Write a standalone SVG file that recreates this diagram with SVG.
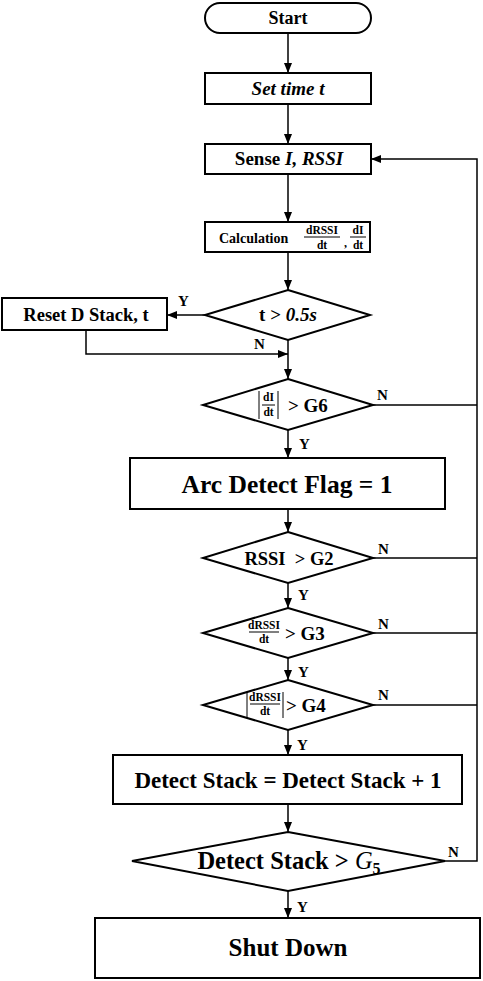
<svg xmlns="http://www.w3.org/2000/svg" width="483" height="981" viewBox="0 0 483 981" font-family="'Liberation Serif', 'DejaVu Serif', serif">
<defs>
<marker id="ah" markerWidth="10" markerHeight="8" refX="10" refY="4" orient="auto" markerUnits="userSpaceOnUse">
<path d="M0,0 L10,4 L0,8 Z" fill="#000"/>
</marker>
<style>
.box{fill:#fff;stroke:#000;stroke-width:2}
.ln{fill:none;stroke:#000;stroke-width:1.5}
.lnh{fill:none;stroke:#000;stroke-width:1.5;marker-end:url(#ah)}
text{font-family:'Liberation Serif','DejaVu Serif',serif;font-weight:bold;fill:#000}
.c{text-anchor:middle}
.lbl{font-size:15px}
.fr{font-size:11.5px;text-anchor:middle}
.fl{stroke:#000;stroke-width:1}
</style>
</defs>
<rect width="483" height="981" fill="#fff"/>
<g id="connectors">
<path class="lnh" d="M288,33 V73"/>
<path class="lnh" d="M288,104 V144"/>
<path class="lnh" d="M288,174 V222"/>
<path class="lnh" d="M288,252 V290"/>
<path class="lnh" d="M205,315 H167"/>
<path class="lnh" d="M86,330 V354 H288"/>
<path class="lnh" d="M288,340 V379"/>
<path class="ln" d="M373,405 H477"/>
<path class="lnh" d="M288,430 V458"/>
<path class="lnh" d="M288,509 V532"/>
<path class="ln" d="M373,558 H477"/>
<path class="lnh" d="M288,583 V608"/>
<path class="ln" d="M373,633 H477"/>
<path class="lnh" d="M288,658 V680"/>
<path class="ln" d="M373,705 H477"/>
<path class="lnh" d="M288,730 V755"/>
<path class="lnh" d="M288,804 V832"/>
<path class="lnh" d="M445,861 H477 V159 H371"/>
<path class="lnh" d="M288,891 V918"/>
<text class="lbl" x="178" y="306">Y</text>
<text class="lbl" x="254" y="349">N</text>
<text class="lbl" x="377" y="400">N</text>
<text class="lbl" x="299" y="449">Y</text>
<text class="lbl" x="378" y="554">N</text>
<text class="lbl" x="298" y="600">Y</text>
<text class="lbl" x="378" y="629">N</text>
<text class="lbl" x="298" y="677">Y</text>
<text class="lbl" x="378" y="700">N</text>
<text class="lbl" x="297" y="750">Y</text>
<text class="lbl" x="448" y="857">N</text>
<text class="lbl" x="297" y="912">Y</text>
</g>
<g id="start">
<rect class="box" x="205" y="3" width="166" height="30" rx="15" ry="15"/>
<text class="c" x="288" y="24" font-size="18">Start</text>
</g>
<g id="set-time">
<rect class="box" x="205" y="73" width="166" height="31"/>
<text class="c" x="288" y="95" font-size="19" font-style="italic">Set time t</text>
</g>
<g id="sense">
<rect class="box" x="205" y="144" width="166" height="30"/>
<text class="c" x="289" y="165" font-size="19">Sense <tspan font-style="italic">I, RSSI</tspan></text>
</g>
<g id="calculation">
<rect class="box" x="205" y="222" width="165" height="30"/>
<text x="219" y="243" font-size="14">Calculation</text>
<text class="fr" x="322" y="234" font-size="12.5">dRSSI</text>
<line class="fl" x1="304" y1="237" x2="340" y2="237"/>
<text class="fr" x="322" y="249" font-size="12.5">dt</text>
<text x="344" y="247" font-size="12">,</text>
<text class="fr" x="358" y="234" font-size="12.5">dI</text>
<line class="fl" x1="350" y1="237" x2="366" y2="237"/>
<text class="fr" x="358" y="249" font-size="12.5">dt</text>
</g>
<g id="check-time">
<polygon class="box" points="288,290 370,315 288,340 205,315"/>
<text class="c" x="288" y="321" font-size="19">t &gt; <tspan font-style="italic">0.5s</tspan></text>
</g>
<g id="reset">
<rect class="box" x="2" y="298" width="165" height="32"/>
<text class="c" x="86" y="321" font-size="18.5">Reset D Stack, t</text>
</g>
<g id="check-g6">
<polygon class="box" points="288,379 373,405 288,430 203,405"/>
<line class="fl" x1="259" y1="391" x2="259" y2="419" stroke-width="1.5"/>
<line class="fl" x1="278" y1="391" x2="278" y2="419" stroke-width="1.5"/>
<text class="fr" x="268.5" y="401">dI</text>
<line class="fl" x1="262" y1="405" x2="275" y2="405"/>
<text class="fr" x="268.5" y="416">dt</text>
<text x="288" y="412" font-size="19">&gt; G6</text>
</g>
<g id="arc-flag">
<rect class="box" x="130" y="458" width="315" height="51"/>
<text class="c" x="287" y="493" font-size="25.5">Arc Detect Flag = 1</text>
</g>
<g id="check-g2">
<polygon class="box" points="288,532 373,558 288,583 203,558"/>
<text class="c" x="289" y="565" font-size="18.5" xml:space="preserve">RSSI  &gt; G2</text>
</g>
<g id="check-g3">
<polygon class="box" points="288,608 373,633 288,658 203,633"/>
<text class="fr" x="264" y="629" font-size="11">dRSSI</text>
<line class="fl" x1="249" y1="632" x2="279" y2="632"/>
<text class="fr" x="264" y="643" font-size="11">dt</text>
<text x="285" y="640" font-size="19">&gt; G3</text>
</g>
<g id="check-g4">
<polygon class="box" points="288,680 373,705 288,730 203,705"/>
<line class="fl" x1="247" y1="692" x2="247" y2="718" stroke-width="1.5"/>
<line class="fl" x1="283" y1="692" x2="283" y2="718" stroke-width="1.5"/>
<text class="fr" x="265" y="701" font-size="11">dRSSI</text>
<line class="fl" x1="250" y1="704" x2="280" y2="704"/>
<text class="fr" x="265" y="715" font-size="11">dt</text>
<text x="286" y="712" font-size="19">&gt; G4</text>
</g>
<g id="stack-inc">
<rect class="box" x="113" y="755" width="349" height="49"/>
<text class="c" x="288" y="788" font-size="23">Detect Stack = Detect Stack + 1</text>
</g>
<g id="check-g5">
<polygon class="box" points="288,832 445,861 288,891 132,861"/>
<text class="c" x="289" y="869" font-size="24.5">Detect Stack &gt; <tspan font-style="italic" font-weight="normal">G</tspan><tspan font-size="16" dy="5">5</tspan></text>
</g>
<g id="shutdown">
<rect class="box" x="95" y="918" width="385" height="60"/>
<text class="c" x="288" y="956" font-size="25">Shut Down</text>
</g>
</svg>
